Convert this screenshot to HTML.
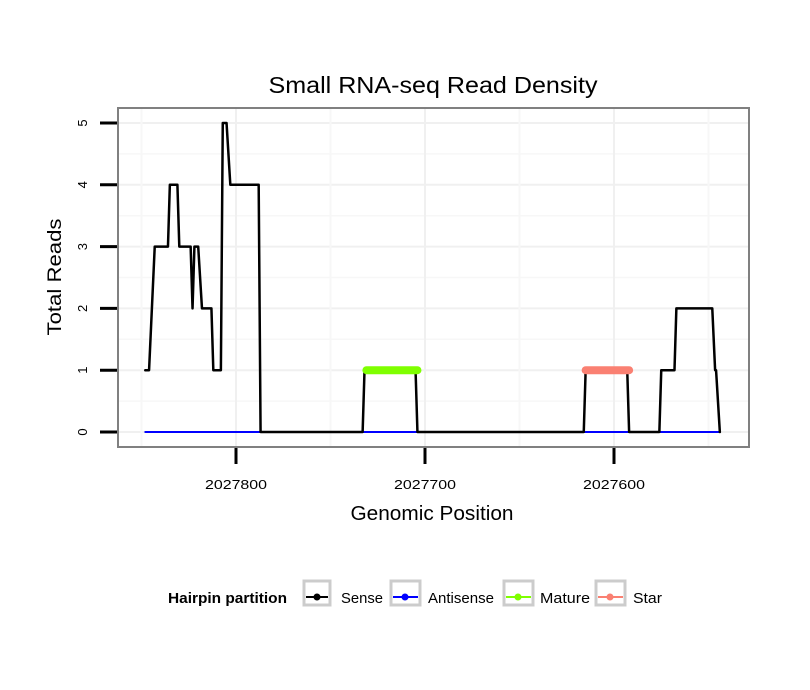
<!DOCTYPE html>
<html><head><meta charset="utf-8"><style>
body{margin:0;background:#fff;}
svg{display:block;font-family:"Liberation Sans",sans-serif;}
</style></head><body>
<svg id="chart" width="810" height="690" viewBox="0 0 810 690">
<rect width="810" height="690" fill="#fff"/>
<text x="433" y="93" text-anchor="middle" font-size="23" textLength="329" lengthAdjust="spacingAndGlyphs" fill="#000">Small RNA-seq Read Density</text>
<g id="grid"></g>
<g id="series"></g>
<rect x="118" y="108" width="631" height="339" fill="none" stroke="#808080" stroke-width="2"/>
<g id="axes"></g>
<text x="432" y="520" text-anchor="middle" font-size="20" textLength="163" lengthAdjust="spacingAndGlyphs">Genomic Position</text>
<text transform="translate(61,277) rotate(-90)" text-anchor="middle" font-size="19" textLength="117" lengthAdjust="spacingAndGlyphs">Total Reads</text>
<g>
<text x="168" y="603" font-size="15" font-weight="bold" textLength="119" lengthAdjust="spacingAndGlyphs">Hairpin partition</text>
<g><rect x="304" y="581" width="26" height="24" fill="#fff" stroke="#ccc" stroke-width="3"/><line x1="306" y1="597" x2="328" y2="597" stroke="#000" stroke-width="2"/><circle cx="317" cy="597" r="3.5" fill="#000"/><text x="341" y="603" font-size="15" textLength="42" lengthAdjust="spacingAndGlyphs">Sense</text></g>
<g><rect x="391" y="581" width="29" height="24" fill="#fff" stroke="#ccc" stroke-width="3"/><line x1="393" y1="597" x2="418" y2="597" stroke="#0000ff" stroke-width="2"/><circle cx="405" cy="597" r="3.5" fill="#0000ff"/><text x="428" y="603" font-size="15" textLength="66" lengthAdjust="spacingAndGlyphs">Antisense</text></g>
<g><rect x="504" y="581" width="29" height="24" fill="#fff" stroke="#ccc" stroke-width="3"/><line x1="506" y1="597" x2="531" y2="597" stroke="#7fff00" stroke-width="2"/><circle cx="518" cy="597" r="3.5" fill="#7fff00"/><text x="540" y="603" font-size="15" textLength="50" lengthAdjust="spacingAndGlyphs">Mature</text></g>
<g><rect x="596" y="581" width="29" height="24" fill="#fff" stroke="#ccc" stroke-width="3"/><line x1="598" y1="597" x2="623" y2="597" stroke="#fa8072" stroke-width="2"/><circle cx="610" cy="597" r="3.5" fill="#fa8072"/><text x="633" y="603" font-size="15" textLength="29" lengthAdjust="spacingAndGlyphs">Star</text></g>
</g>
</svg>
<script>
const xTicks = [2027800, 2027700, 2027600];
const xMinor = [2027850, 2027750, 2027650, 2027550];
const yTicks = [0, 1, 2, 3, 4, 5];
const sensePos = [2027848,2027846,2027843,2027836,2027835,2027831,2027830,2027824,2027823,2027822,2027820,2027818,2027813,2027812,2027808,2027807,2027805,2027803,2027788,2027787,2027733,2027732,2027705,2027704,2027616,2027615,2027593,2027592,2027576,2027575,2027568,2027567,2027548,2027546.5,2027546,2027544];
const senseVal = [1,1,3,3,4,4,3,3,2,3,3,2,2,1,1,5,5,4,4,0,0,1,1,0,0,1,1,0,0,1,1,2,2,1,1,0];
const antisensePos = [2027848, 2027544];
const antisenseVal = [0, 0];
const maturePos = [2027731, 2027704];
const matureVal = [1, 1];
const starPos = [2027615, 2027592];
const starVal = [1, 1];

const NS='http://www.w3.org/2000/svg';
const X = v => 236 + (2027800 - v) * 1.89;
const Y = v => 432 - v * 61.8;
function mk(tag, attrs, parent){const e=document.createElementNS(NS,tag);for(const k in attrs)e.setAttribute(k,attrs[k]);parent.appendChild(e);return e;}
const grid=document.getElementById('grid'), axes=document.getElementById('axes'), ser=document.getElementById('series');
for(let v=-0.5; v<=5.5; v+=0.5){const y=Y(v); if(y<109||y>446) continue;
  const l=mk('line',{x1:119,x2:748,y1:y,y2:y,stroke:Number.isInteger(v)?'#f0f0f0':'#f7f7f7','stroke-width':Number.isInteger(v)?2:1.5},grid);
  
  }
xTicks.concat(xMinor).forEach((v,i)=>{const x=X(v); if(x<119||x>748) return;
  const l=mk('line',{x1:x,x2:x,y1:109,y2:446,stroke:i<xTicks.length?'#f0f0f0':'#f7f7f7','stroke-width':2},grid);
  
  });
yTicks.forEach(v=>{const y=Y(v);
  const t=mk('line',{x1:100,x2:117,y1:y,y2:y,stroke:'#000','stroke-width':3},axes);
  
  
  const tx=mk('text',{transform:`translate(87,${y}) rotate(-90)`,'text-anchor':'middle','font-size':13},axes);
  tx.textContent=v;
  
  });
xTicks.forEach(v=>{const x=X(v);
  const t=mk('line',{x1:x,x2:x,y1:448,y2:464,stroke:'#000','stroke-width':3},axes);
  
  
  const tx=mk('text',{x:x,y:489,'text-anchor':'middle','font-size':13,textLength:62,lengthAdjust:'spacingAndGlyphs'},axes);
  tx.textContent=v;
  
  });
function line(pos,val,color,w,name){
  const p=mk('polyline',{points:pos.map((v,i)=>X(v)+','+Y(val[i])).join(' '),fill:'none',stroke:color,'stroke-width':w,'stroke-linejoin':'round','stroke-linecap':'round'},ser);
  
  }
line(antisensePos,antisenseVal,'#0000ff',2,'antisense-line');
line(sensePos,senseVal,'#000',2.5,'sense-line');
line(maturePos,matureVal,'#7fff00',8,'mature-line');
line(starPos,starVal,'#fa8072',8,'star-line');
</script>
</body></html>
